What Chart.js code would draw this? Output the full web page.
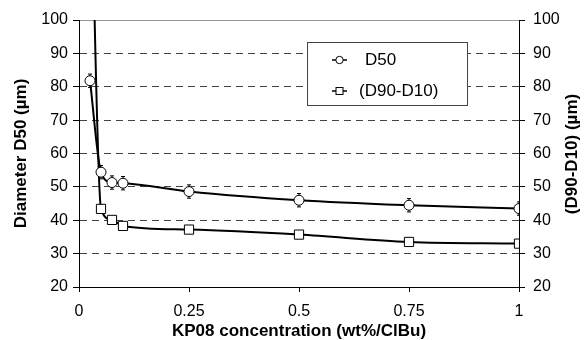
<!DOCTYPE html>
<html>
<head>
<meta charset="utf-8">
<script src="https://cdn.jsdelivr.net/npm/chart.js@4/dist/chart.umd.min.js"></script>
<style>
  html, body { margin: 0; padding: 0; background: #fff; }
  #wrap { width: 585px; height: 340px; }
</style>
</head>
<body>
<div id="wrap"><canvas id="chart" width="585" height="340"></canvas></div>
<script>
// data
const concentration = [0.025, 0.05, 0.075, 0.1, 0.25, 0.5, 0.75, 1];
const d50 = [81.8, 54.4, 51.3, 51.1, 48.6, 46.0, 44.5, 43.5];
const d50Err = [2, 2, 2, 2, 2, 2, 2, 2];
const spread = [160, 43.4, 40.1, 38.3, 37.2, 35.7, 33.5, 33.0];
const xTicks = [0, 0.25, 0.5, 0.75, 1];

const FONT = '"Liberation Sans", Arial, sans-serif';

function toPoints(xs, ys) {
    return xs.map((x, i) => ({ x: x, y: ys[i] }));
}

// vertical error bars on D50, drawn under the markers
const errorBars = {
    id: 'errorBars',
    beforeDatasetsDraw(chart) {
        const ctx = chart.ctx;
        const xs = chart.scales.x, ys = chart.scales.y;
        const area = chart.chartArea;
        ctx.save();
        ctx.beginPath();
        ctx.rect(area.left, area.top, area.right - area.left, area.bottom - area.top);
        ctx.clip();
        ctx.strokeStyle = '#000';
        ctx.lineWidth = 1;
        concentration.forEach((c, i) => {
            const px = xs.getPixelForValue(c);
            const top = ys.getPixelForValue(d50[i] + d50Err[i]);
            const bot = ys.getPixelForValue(d50[i] - d50Err[i]);
            ctx.beginPath();
            ctx.moveTo(px, top); ctx.lineTo(px, bot);
            ctx.moveTo(px - 2, top); ctx.lineTo(px + 2, top);
            ctx.moveTo(px - 2, bot); ctx.lineTo(px + 2, bot);
            ctx.stroke();
        });
        ctx.restore();
    }
};

// boxed legend and the upward-reading right axis title
const extras = {
    id: 'extras',
    afterDraw(chart) {
        const ctx = chart.ctx;
        ctx.save();
        // legend box
        ctx.fillStyle = '#fff';
        ctx.fillRect(307, 42, 160, 63);
        ctx.strokeStyle = '#444';
        ctx.lineWidth = 1;
        ctx.strokeRect(307.5, 42.5, 160, 63);

        ctx.strokeStyle = '#000';
        ctx.lineWidth = 1.5;
        ctx.beginPath();
        ctx.moveTo(332, 60); ctx.lineTo(347, 60);
        ctx.moveTo(332, 91); ctx.lineTo(347, 91);
        ctx.stroke();
        ctx.lineWidth = 1;
        ctx.fillStyle = '#fff';
        ctx.beginPath();
        ctx.arc(339.5, 60, 3.7, 0, Math.PI * 2);
        ctx.fill(); ctx.stroke();
        ctx.fillRect(336, 87.5, 7, 7);
        ctx.strokeRect(336, 87.5, 7, 7);

        ctx.fillStyle = '#000';
        ctx.font = '17px ' + FONT;
        ctx.textBaseline = 'middle';
        ctx.textAlign = 'left';
        ctx.fillText('D50', 365, 60);
        ctx.fillText('(D90-D10)', 359, 91);

        // right axis title
        ctx.translate(572, 154);
        ctx.rotate(-Math.PI / 2);
        ctx.font = 'bold 17px ' + FONT;
        ctx.textAlign = 'center';
        ctx.fillText('(D90-D10) (\u00b5m)', 0, 0);
        ctx.restore();
    }
};

const ctx = document.getElementById('chart').getContext('2d');

new Chart(ctx, {
    type: 'line',
    data: {
        datasets: [
            {
                label: 'D50',
                data: toPoints(concentration, d50),
                yAxisID: 'y',
                borderColor: '#000',
                borderWidth: 2,
                cubicInterpolationMode: 'monotone',
                pointStyle: 'circle',
                pointRadius: 5,
                pointBackgroundColor: '#fff',
                pointBorderColor: '#000',
                pointBorderWidth: 1
            },
            {
                label: '(D90-D10)',
                data: toPoints(concentration, spread),
                yAxisID: 'y2',
                borderColor: '#000',
                borderWidth: 2,
                cubicInterpolationMode: 'monotone',
                pointStyle: 'rect',
                pointRadius: 6.5,
                pointBackgroundColor: '#fff',
                pointBorderColor: '#000',
                pointBorderWidth: 1
            }
        ]
    },
    options: {
        responsive: false,
        animation: false,
        layout: { padding: { top: 20, left: 0, right: 0, bottom: 0 } },
        plugins: {
            legend: { display: false },
            tooltip: { enabled: false }
        },
        scales: {
            x: {
                type: 'linear',
                min: 0,
                max: 1,
                afterBuildTicks: (scale) => { scale.ticks = xTicks.map(v => ({ value: v })); },
                ticks: {
                    color: '#000',
                    font: { family: FONT, size: 16 },
                    padding: 10,
                    maxRotation: 0,
                    callback: (v) => String(v)
                },
                grid: { drawOnChartArea: false, color: '#000', tickLength: 5 },
                border: { color: '#000', width: 1 },
                title: {
                    display: true,
                    text: 'KP08 concentration (wt%/ClBu)',
                    color: '#000',
                    font: { family: FONT, size: 17, weight: 'bold', lineHeight: 1 },
                    padding: { top: 0, bottom: 0 }
                },
                afterFit: (scale) => { scale.height = 53; }
            },
            y: {
                position: 'left',
                min: 20,
                max: 100,
                ticks: {
                    stepSize: 10,
                    color: '#000',
                    font: { family: FONT, size: 16 },
                    padding: 5
                },
                grid: {
                    color: (c) => c.tick.value === 100 ? '#999' : (c.tick.value === 20 ? 'rgba(0,0,0,0)' : '#444'),
                    tickColor: '#000',
                    tickLength: 6,
                    lineWidth: 1
                },
                border: {
                    color: '#000',
                    width: 1,
                    dash: (c) => c.tick && c.tick.value === 100 ? [] : [7, 5]
                },
                title: {
                    display: true,
                    text: 'Diameter D50 (\u00b5m)',
                    color: '#000',
                    font: { family: FONT, size: 17, weight: 'bold', lineHeight: 1 },
                    padding: { top: 13, bottom: 0 }
                },
                afterFit: (scale) => { scale.width = 79; }
            },
            y2: {
                position: 'right',
                min: 20,
                max: 100,
                ticks: {
                    stepSize: 10,
                    color: '#000',
                    font: { family: FONT, size: 16 },
                    padding: 8
                },
                grid: { drawOnChartArea: false, color: '#000', tickLength: 6 },
                border: { color: '#000', width: 1 },
                afterFit: (scale) => { scale.width = 66; }
            }
        }
    },
    plugins: [errorBars, extras]
});
</script>
</body>
</html>
